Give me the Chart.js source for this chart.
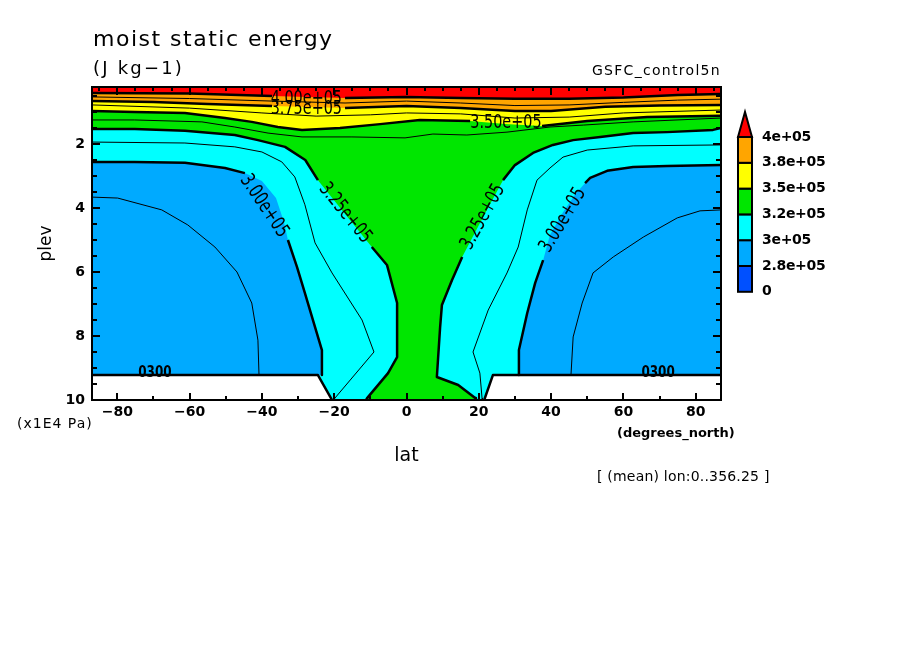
<!DOCTYPE html>
<html>
<head>
<meta charset="utf-8">
<title>moist static energy</title>
<script src="https://cdn.jsdelivr.net/npm/chart.js@4.4.1/dist/chart.umd.min.js"></script>
<style>
  html, body { margin: 0; padding: 0; background: #fff; }
  canvas { display: block; }
</style>
</head>
<body>
<canvas id="mse" width="904" height="654"></canvas>
<script>
const FONT = "'DejaVu Sans', sans-serif";
const NARROW = "'DejaVu Sans Condensed', 'DejaVu Sans', sans-serif";

// axes
const latRange = [-87, 87];
const plevRange = [0.22, 10];
const latTicks = [-80, -60, -40, -20, 0, 20, 40, 60, 80];
const plevTicks = [2, 4, 6, 8, 10];

// colour key, low to high
const keyLabels = ["0", "2.8e+05", "3e+05", "3.2e+05", "3.5e+05", "3.8e+05", "4e+05"];
const keyColors = ["#0050ff", "#00aaff", "#00ffff", "#00e600", "#ffff00", "#ffa500", "#ff0000"];

// contours, [lat, plev]
const c400 = [[-87, 0.41], [-60, 0.42], [-37.2, 0.5], [-17, 0.56], [0, 0.53], [15, 0.56], [30, 0.59], [45, 0.59], [60, 0.55], [75, 0.47], [87, 0.44]];
const c3875 = [[-87, 0.53], [-60, 0.58], [-37.2, 0.66], [-17, 0.72], [0, 0.66], [15, 0.72], [30, 0.8], [45, 0.78], [60, 0.7], [75, 0.63], [87, 0.6]];
const c375 = [[-87, 0.66], [-70, 0.69], [-55, 0.75], [-37.2, 0.81], [-17, 0.88], [0, 0.81], [15, 0.88], [30, 0.97], [40, 0.97], [55, 0.84], [70, 0.8], [87, 0.78]];
const c3625 = [[-87, 0.78], [-60, 0.88], [-40, 1.03], [-25, 1.13], [-10, 1.09], [0, 1.03], [15, 1.06], [30, 1.19], [45, 1.16], [60, 1.03], [87, 0.94]];
const c350 = [[-87, 0.97], [-75.2, 1.0], [-61.3, 1.03], [-50.2, 1.19], [-42.8, 1.31], [-35.6, 1.47], [-28.9, 1.56], [-18.4, 1.5], [-7.3, 1.38], [3.7, 1.25], [17.6, 1.28], [27.3, 1.38], [37.5, 1.44], [50, 1.28], [66.6, 1.16], [87, 1.12]];
const c3375 = [[-87, 1.25], [-75.2, 1.25], [-56.6, 1.31], [-47.5, 1.47], [-38.3, 1.66], [-28.9, 1.78], [-15.1, 1.78], [-0.4, 1.81], [7.3, 1.69], [16.7, 1.72], [27.8, 1.63], [39.7, 1.47], [48.9, 1.41], [62.7, 1.31], [87, 1.19]];
const c325S = [[-87, 1.53], [-75.2, 1.53], [-61.3, 1.59], [-47.5, 1.72], [-41.1, 1.88], [-33.6, 2.09], [-28.0, 2.5], [-24.5, 3.13], [-17.0, 4.19], [-9.6, 5.22], [-5.4, 5.78], [-2.6, 6.97], [-2.6, 8.66], [-5.1, 9.16], [-10.9, 9.94], [-11.2, 10]];
const c325N = [[87, 1.5], [84.8, 1.56], [72.1, 1.63], [62.7, 1.66], [53.6, 1.78], [46.1, 1.88], [40.5, 2.03], [35.0, 2.28], [30.0, 2.66], [26.7, 3.13], [21.2, 4.28], [15.4, 5.53], [12.6, 6.25], [9.8, 7.03], [9.3, 7.72], [8.4, 9.28], [14.3, 9.53], [19.0, 9.94], [19.2, 10]];
const c3125S = [[-87, 1.94], [-61.3, 1.97], [-47.5, 2.09], [-40.0, 2.25], [-34.5, 2.56], [-30.9, 3.03], [-28.1, 3.9], [-25.3, 5.09], [-20.6, 6.03], [-12.3, 7.5], [-9.0, 8.5], [-19.8, 9.94], [-20.1, 10]];
const c3125N = [[87, 2.03], [62.7, 2.06], [50.0, 2.19], [43.3, 2.41], [39.7, 2.75], [36.1, 3.13], [33.4, 4.06], [30.9, 5.22], [27.8, 6.03], [22.6, 7.19], [18.4, 8.5], [20.3, 9.16], [20.9, 9.94], [21.0, 10]];
const c300S = [[-87, 2.56], [-75.2, 2.56], [-61.3, 2.59], [-50.2, 2.75], [-44.7, 2.91], [-40.0, 3.16], [-36.1, 3.69], [-33.9, 4.44], [-32.8, 5.0], [-30.3, 5.84], [-28.1, 6.66], [-25.3, 7.72], [-23.4, 8.44], [-23.4, 9.22]];
const c300N = [[87, 2.66], [72.1, 2.69], [62.7, 2.72], [55.5, 2.84], [50.8, 3.06], [49.4, 3.22], [46.6, 3.59], [43.3, 4.13], [39.7, 4.84], [37.8, 5.63], [35.6, 6.34], [33.4, 7.28], [31.1, 8.44], [31.1, 9.22]];
const c2875S = [[-87, 3.66], [-79.9, 3.69], [-67.7, 4.06], [-60.5, 4.53], [-53.0, 5.22], [-46.9, 6.0], [-42.8, 6.97], [-41.1, 8.13], [-40.8, 9.22]];
const c2875N = [[87, 4.06], [81.2, 4.09], [74.9, 4.31], [65.5, 4.91], [57.2, 5.53], [51.6, 6.03], [48.6, 6.97], [46.1, 8.03], [45.5, 9.22]];

// below-ground (missing) edge
const surfS = [[-87, 9.22], [-24.5, 9.22], [-20.6, 10]];
const surfN = [[87, 9.22], [23.9, 9.22], [21.5, 10]];

// contour labels
const contourLabels = [
  { text: "4.00e+05", lat: -27.7, plev: 0.59, rot: 0 },
  { text: "3.75e+05", lat: -27.7, plev: 0.9, rot: 0 },
  { text: "3.50e+05", lat: 27.5, plev: 1.34, rot: 0 },
  { text: "3.00e+05", lat: -39.4, plev: 3.94, rot: 56 },
  { text: "3.25e+05", lat: -17.0, plev: 4.16, rot: 51 },
  { text: "3.25e+05", lat: 21.2, plev: 4.28, rot: -61 },
  { text: "3.00e+05", lat: 43.3, plev: 4.38, rot: -59 },
  { text: "0300", lat: -69.6, plev: 9.17, rot: 0, small: true },
  { text: "0300", lat: 69.6, plev: 9.17, rot: 0, small: true },
];

const xy = (pts) => pts.map(([x, y]) => ({ x, y }));
const topEdge = [[latRange[0], plevRange[0]], [latRange[1], plevRange[0]]];
const band = (c) => topEdge.concat(c.slice().reverse());

function area(pts, color) {
  return { data: xy(pts), showLine: true, fill: "shape", backgroundColor: color,
    borderWidth: 0, borderColor: color, pointRadius: 0 };
}
function contour(pts, width, hide) {
  const ds = { data: xy(pts), showLine: true, fill: false, borderColor: "#000",
    borderWidth: width, pointRadius: 0, borderJoinStyle: "round" };
  if (hide) {
    ds.segment = { borderColor: (c) => (hide.includes(c.p0DataIndex) ? "rgba(0,0,0,0)" : undefined) };
  }
  return ds;
}

// painter's order, bottom layer first
const layers = [
  area([[latRange[0], plevRange[0]], [latRange[1], plevRange[0]], [latRange[1], plevRange[1]], [latRange[0], plevRange[1]]], keyColors[3]),
  area(band(c350), keyColors[4]),
  area(band(c375), keyColors[5]),
  area(band(c400), keyColors[6]),
  area(c325S.concat([[latRange[0], plevRange[1]]]), keyColors[2]),
  area(c325N.concat([[latRange[1], plevRange[1]]]), keyColors[2]),
  area(c300S.concat([[latRange[0], 9.22]]), keyColors[1]),
  area(c300N.concat([[latRange[1], 9.22]]), keyColors[1]),
  area(surfS.concat([[latRange[0], plevRange[1]]]), "#ffffff"),
  area(surfN.concat([[latRange[1], plevRange[1]]]), "#ffffff"),
  contour(c3875, 1),
  contour(c3625, 1),
  contour(c3375, 1),
  contour(c3125S, 1),
  contour(c3125N, 1),
  contour(c2875S, 1),
  contour(c2875N, 1),
  contour(c400, 2.5, [2]),
  contour(c375, 2.5, [3]),
  contour(c350, 2.5, [10, 11]),
  contour(c325S, 2.5, [7, 8]),
  contour(c325N, 2.5, [9, 10]),
  contour(c300S, 2.5, [4, 5, 6, 7]),
  contour(c300N, 2.5, [5, 6, 7, 8]),
  contour(surfS, 2.5),
  contour(surfN, 2.5),
];
layers.forEach((d, i) => (d.order = layers.length - i));

function say(ctx, s, x, y, font, align, spacing, base) {
  ctx.font = font;
  ctx.textAlign = align || "left";
  ctx.textBaseline = base || "middle";
  ctx.letterSpacing = (spacing || 0) + "px";
  ctx.fillText(s, x, y);
  ctx.letterSpacing = "0px";
}

const decor = {
  id: "decor",
  afterDatasetsDraw(chart) {
    const { ctx, chartArea: a, scales } = chart;
    const x = scales.x, y = scales.y;
    ctx.save();
    ctx.fillStyle = "#000";

    contourLabels.forEach((l) => {
      ctx.save();
      ctx.translate(x.getPixelForValue(l.lat), y.getPixelForValue(l.plev));
      ctx.rotate((l.rot * Math.PI) / 180);
      if (l.small) {
        ctx.scale(0.8, 1);
        say(ctx, l.text, 0, 0, "bold 15px " + FONT, "center");
      } else {
        ctx.scale(0.72, 1);
        say(ctx, l.text, 0, 0, "20px " + FONT, "center");
      }
      ctx.restore();
    });

    // frame and inward ticks
    ctx.strokeStyle = "#000";
    ctx.lineWidth = 2;
    ctx.strokeRect(a.left, a.top, a.right - a.left, a.bottom - a.top);
    ctx.beginPath();
    for (let v = -80; v <= 80; v += 10) {
      const px = Math.round(x.getPixelForValue(v));
      const len = v % 20 === 0 ? 7 : 4;
      ctx.moveTo(px, a.bottom); ctx.lineTo(px, a.bottom - len);
    }
    for (let v = -85; v <= 85; v += 5) {
      const px = Math.round(x.getPixelForValue(v));
      const len = v % 20 === 0 ? 8 : 4;
      ctx.moveTo(px, a.top); ctx.lineTo(px, a.top + len);
    }
    for (let v = 0.5; v < 10; v += 0.5) {
      const py = Math.round(y.getPixelForValue(v));
      const len = v % 2 === 0 ? 8 : 5;
      ctx.moveTo(a.left, py); ctx.lineTo(a.left + len, py);
      ctx.moveTo(a.right, py); ctx.lineTo(a.right - len, py);
    }
    ctx.stroke();
    ctx.restore();
  },
  afterDraw(chart) {
    const { ctx, chartArea: a } = chart;
    ctx.save();
    ctx.fillStyle = "#000";
    say(ctx, "moist static energy", 93, 46, "22px " + FONT, "left", 1.5, "alphabetic");
    say(ctx, "(J kg\u22121)", 93, 74, "18px " + FONT, "left", 2.2, "alphabetic");
    say(ctx, "GSFC_control5n", a.right, 75, "14px " + FONT, "right", 1.3, "alphabetic");
    say(ctx, "(x1E4 Pa)", 17, 424, "14px " + FONT, "left", 1);
    say(ctx, "(degrees_north)", 617, 434, "bold 13px " + FONT, "left");
    say(ctx, "[ (mean) lon:0..356.25 ]", 597, 477, "14px " + FONT, "left", 0.2);

    // colour key
    const kx = 738, kw = 14, kTop = 137, kStep = 25.8;
    const n = keyColors.length - 1;
    for (let i = 0; i < n; i++) {
      const yb = kTop + (n - i) * kStep;
      ctx.fillStyle = keyColors[i];
      ctx.fillRect(kx, yb - kStep, kw, kStep);
      ctx.strokeStyle = "#000";
      ctx.lineWidth = 2;
      ctx.strokeRect(kx, yb - kStep, kw, kStep);
    }
    ctx.beginPath();
    ctx.moveTo(kx, kTop); ctx.lineTo(kx + kw / 2, kTop - 25); ctx.lineTo(kx + kw, kTop); ctx.closePath();
    ctx.fillStyle = keyColors[n];
    ctx.fill();
    ctx.stroke();
    ctx.fillStyle = "#000";
    keyLabels.forEach((t, i) => {
      say(ctx, t, 762, kTop + (n - i) * kStep, "bold 14px " + FONT, "left", -0.3);
    });
    ctx.restore();
  },
};

const minus = (v) => String(v).replace("-", "\u2212");

new Chart(document.getElementById("mse"), {
  type: "scatter",
  data: { datasets: layers },
  options: {
    responsive: false,
    animation: false,
    events: [],
    layout: { padding: { top: 87, right: 183, left: 0, bottom: 0 } },
    plugins: { legend: { display: false }, tooltip: { enabled: false } },
    scales: {
      x: {
        type: "linear",
        min: latRange[0],
        max: latRange[1],
        grid: { display: false, drawTicks: false },
        border: { display: false },
        afterBuildTicks: (s) => { s.ticks = latTicks.map((v) => ({ value: v })); },
        afterFit: (s) => { s.height = 254; },
        ticks: { color: "#000", padding: 4, maxRotation: 0, autoSkip: false,
          font: { family: FONT, size: 14, weight: "bold" }, callback: minus },
        title: { display: true, text: "lat", color: "#000",
          font: { family: FONT, size: 19 }, padding: { top: 187, bottom: 187 } },
      },
      y: {
        type: "linear",
        reverse: true,
        min: plevRange[0],
        max: plevRange[1],
        grid: { display: false, drawTicks: false },
        border: { display: false },
        afterBuildTicks: (s) => { s.ticks = plevTicks.map((v) => ({ value: v })); },
        afterFit: (s) => { s.width = 92; },
        ticks: { color: "#000", padding: 7, font: { family: FONT, size: 14, weight: "bold" } },
        title: { display: true, text: "plev", color: "#000",
          font: { family: FONT, size: 17 }, padding: { top: 36, bottom: 36 } },
      },
    },
  },
  plugins: [decor],
});
</script>
</body>
</html>
